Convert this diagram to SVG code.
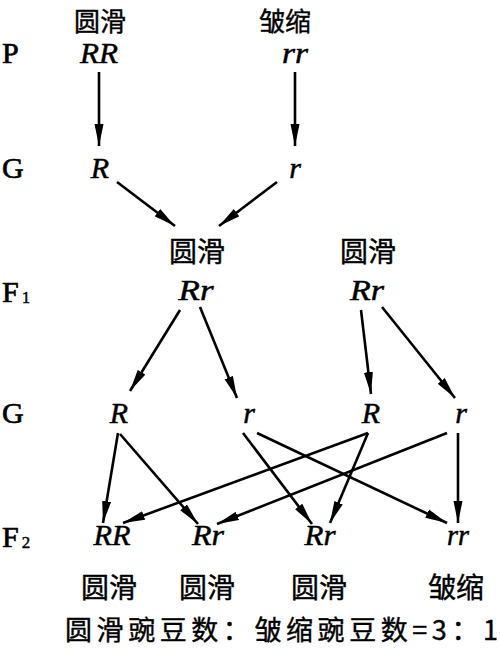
<svg xmlns="http://www.w3.org/2000/svg" width="500" height="648" viewBox="0 0 500 648">
<style>
.zh{font-family:"Noto Sans CJK SC","Noto Sans CJK JP",sans-serif;font-size:28px;fill:#000;stroke:#000;stroke-width:0.4;text-anchor:middle}
.top{font-size:26px}
.lab{font-family:"Liberation Serif","Times New Roman",serif;font-size:30px;fill:#000;stroke:#000;stroke-width:0.7}
.g{font-family:"Liberation Serif","Times New Roman",serif;font-size:30px;font-style:italic;fill:#000;stroke:#000;stroke-width:0.5;text-anchor:middle}
.sub{font-size:17px;stroke-width:0.4}
.c line{stroke:#000;stroke-width:2.6;marker-end:url(#ah)}
</style>
<defs>
<marker id="ah" markerUnits="userSpaceOnUse" markerWidth="24" markerHeight="10" refX="22" refY="5" orient="auto">
<path d="M0,0.5 L22,5 L0,9.5 Z" fill="#000"/>
</marker>
</defs>
<rect width="500" height="648" fill="#fff"/>
<g id="labels">
<text class="lab" x="2" y="63">P</text>
<text class="lab" x="2" y="178">G</text>
<text class="lab" x="2" y="302">F<tspan class="sub" dx="3" dy="1">1</tspan></text>
<text class="lab" x="2" y="423">G</text>
<text class="lab" x="2" y="547">F<tspan class="sub" dx="3" dy="1">2</tspan></text>
</g>
<g id="p-rr-dom">
<text class="zh top" x="100" y="30.5">圆滑</text>
<text class="g" x="99" y="63" textLength="38" lengthAdjust="spacingAndGlyphs">RR</text>
</g>
<g id="p-rr-rec">
<text class="zh top" x="285" y="30.5">皱缩</text>
<text class="g" x="295" y="63" textLength="26" lengthAdjust="spacingAndGlyphs">rr</text>
</g>
<g id="g1-R"><text class="g" x="100" y="178">R</text></g>
<g id="g1-r"><text class="g" x="295" y="178">r</text></g>
<g id="f1-a">
<text class="zh" x="197" y="262">圆滑</text>
<text class="g" x="196" y="300" textLength="35" lengthAdjust="spacingAndGlyphs">Rr</text>
</g>
<g id="f1-b">
<text class="zh" x="368" y="262">圆滑</text>
<text class="g" x="367" y="300" textLength="34" lengthAdjust="spacingAndGlyphs">Rr</text>
</g>
<g id="g2-R1"><text class="g" x="119" y="423">R</text></g>
<g id="g2-r1"><text class="g" x="249" y="423">r</text></g>
<g id="g2-R2"><text class="g" x="371" y="423">R</text></g>
<g id="g2-r2"><text class="g" x="461" y="423">r</text></g>
<g id="f2-RR">
<text class="g" x="112" y="545" textLength="37" lengthAdjust="spacingAndGlyphs">RR</text>
<text class="zh" x="109" y="598">圆滑</text>
</g>
<g id="f2-Rr1">
<text class="g" x="208" y="545" textLength="32" lengthAdjust="spacingAndGlyphs">Rr</text>
<text class="zh" x="207" y="598">圆滑</text>
</g>
<g id="f2-Rr2">
<text class="g" x="320" y="545" textLength="31" lengthAdjust="spacingAndGlyphs">Rr</text>
<text class="zh" x="319" y="598">圆滑</text>
</g>
<g id="f2-rr">
<text class="g" x="458" y="545" textLength="22" lengthAdjust="spacingAndGlyphs">rr</text>
<text class="zh" x="456" y="598">皱缩</text>
</g>
<g id="ratio">
<text class="zh" x="65" y="640" style="text-anchor:start;font-size:27px" textLength="433" lengthAdjust="spacing">圆滑豌豆数：皱缩豌豆数=3：1</text>
</g>
<g id="connectors" class="c">
<line x1="99" y1="72" x2="99" y2="146"/>
<line x1="295" y1="72" x2="295" y2="146"/>
<line x1="117" y1="182" x2="175" y2="226"/>
<line x1="277" y1="182" x2="219" y2="226"/>
<line x1="180" y1="310" x2="130" y2="391"/>
<line x1="200" y1="307" x2="237" y2="398"/>
<line x1="361" y1="310" x2="371" y2="394"/>
<line x1="382" y1="307" x2="455" y2="398"/>
<line x1="118" y1="433" x2="103" y2="523"/>
<line x1="120" y1="434" x2="198" y2="524"/>
<line x1="243" y1="433" x2="312" y2="524"/>
<line x1="257" y1="433" x2="447" y2="523"/>
<line x1="368" y1="433" x2="123" y2="523"/>
<line x1="368" y1="433" x2="330" y2="523"/>
<line x1="447" y1="433" x2="217" y2="524"/>
<line x1="458" y1="433" x2="458" y2="523"/>
</g>
</svg>
